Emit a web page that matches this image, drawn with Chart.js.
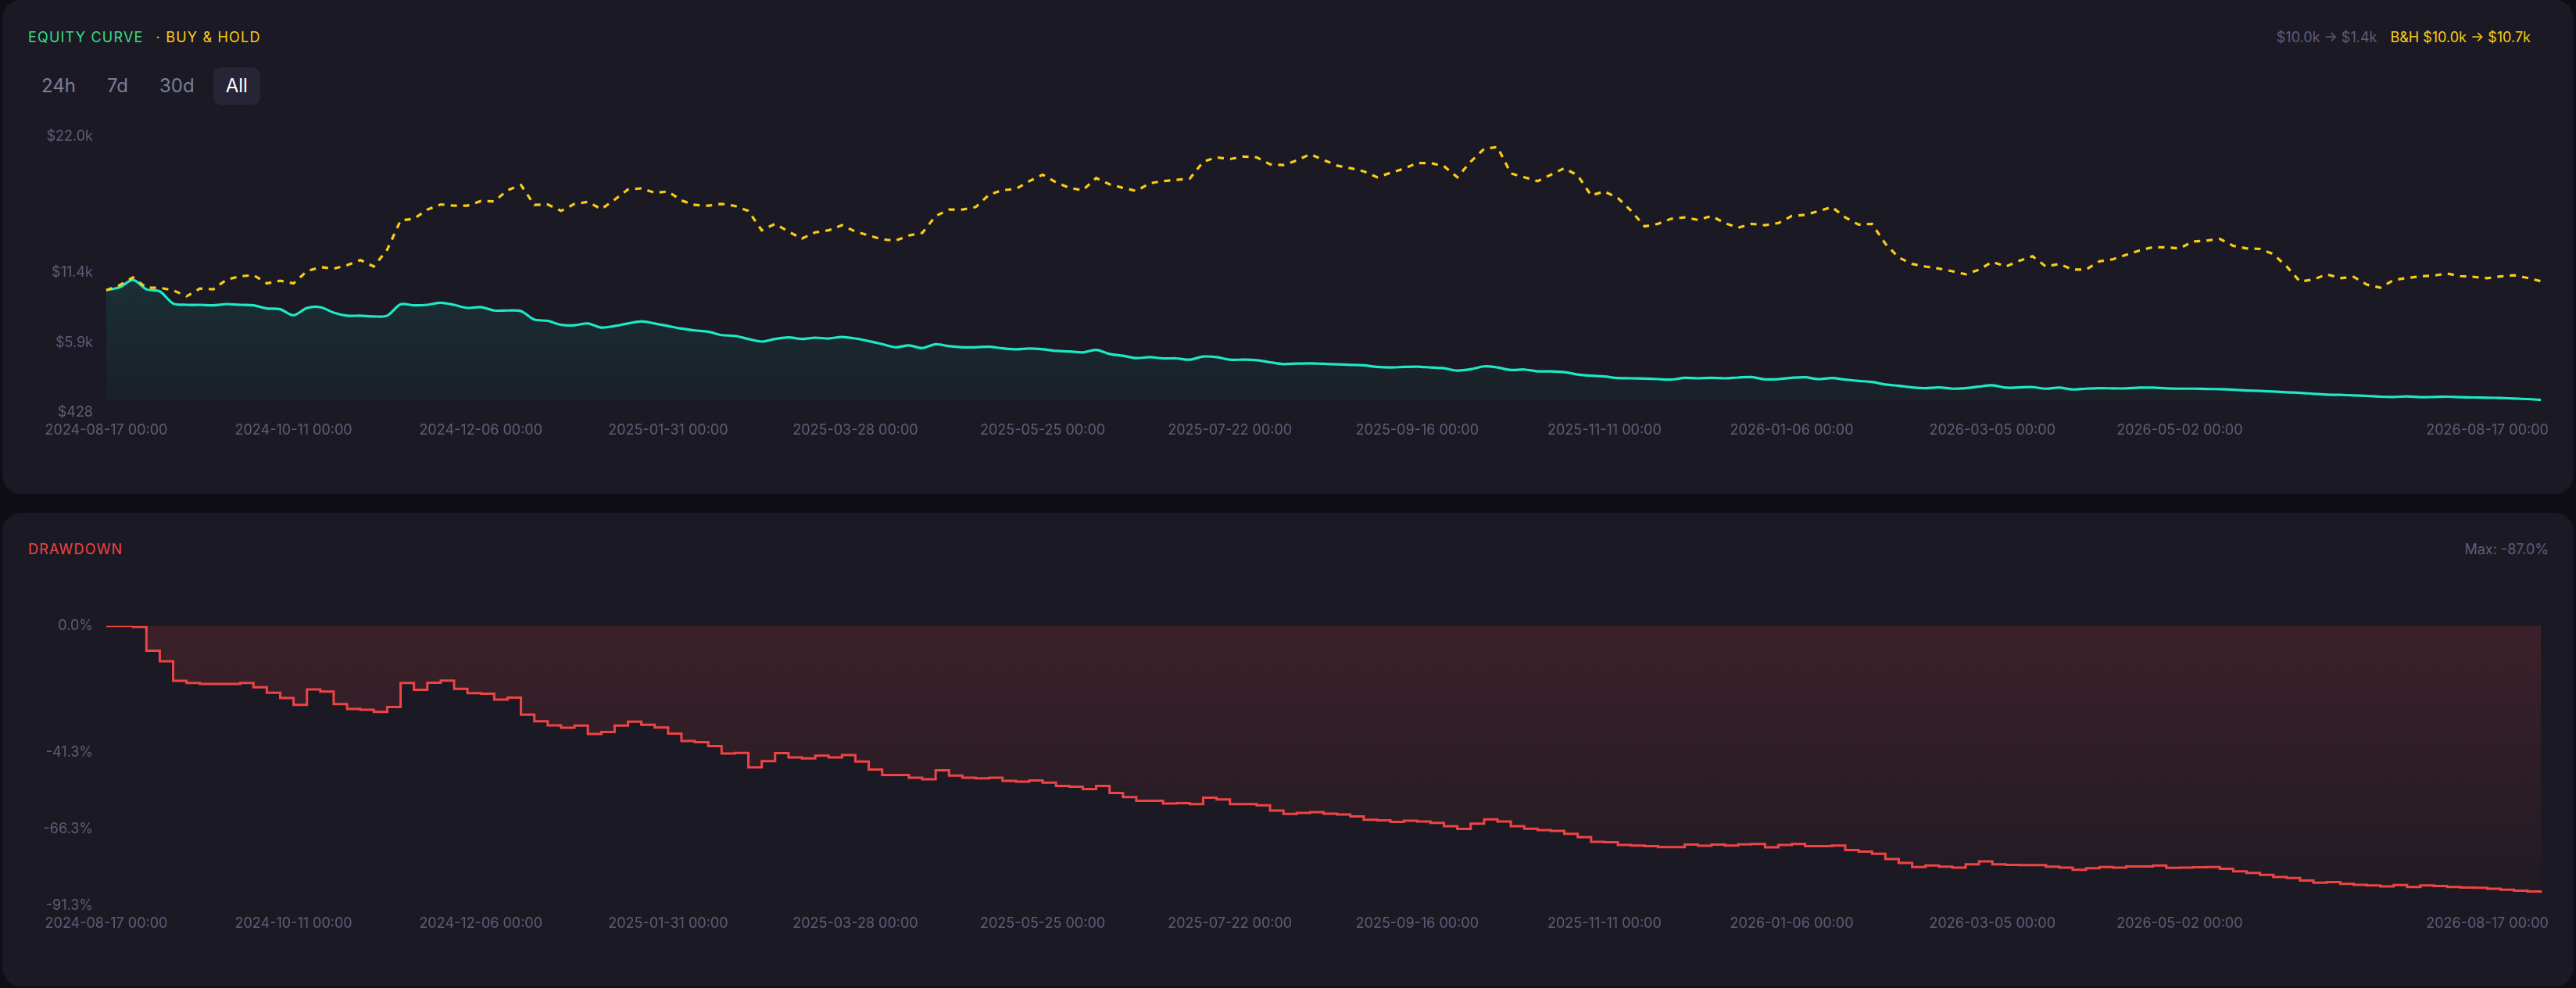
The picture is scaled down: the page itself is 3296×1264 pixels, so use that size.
<!DOCTYPE html>
<html>
<head>
<meta charset="utf-8">
<title>Equity curve</title>
<script src="https://cdn.jsdelivr.net/npm/chart.js@4.4.1/dist/chart.umd.min.js"></script>
<style>
  html, body { margin: 0; padding: 0; width: 3296px; height: 1264px; overflow: hidden; background: #0f0e17; font-family: Inter, sans-serif; }
  .card { position: absolute; left: 3px; width: 3290px; background: #1b1a24; border-radius: 24px; }
  .abs { position: absolute; white-space: nowrap; }
  .head { height: 30px; line-height: 30px; font-size: 18px; }
  .title { font-weight: 400; letter-spacing: 1.2px; }
  .range { display: flex; gap: 8px; height: 48px; }
  .range span { padding: 0 16px; line-height: 48px; font-size: 24px; color: #7f7c98; border-radius: 10px; }
  .range span.on { background: #262536; color: #ffffff; }
</style>
</head>
<body>
<div class="card" style="top:0;height:632px"></div>
<div class="card" style="top:656px;height:606px"></div>

<div class="abs head title" style="left:36px;top:33px">
  <span style="color:#3ddc84">EQUITY CURVE</span><span style="color:#facc15;margin-left:16px">· BUY &amp; HOLD</span>
</div>
<div class="abs head" style="right:58px;top:33px">
  <span style="color:#5f5c77">$10.0k → $1.4k</span><span style="color:#facc15;margin-left:17px">B&amp;H $10.0k → $10.7k</span>
</div>
<div class="abs range" style="left:37px;top:86px">
  <span>24h</span><span>7d</span><span>30d</span><span class="on">All</span>
</div>

<div class="abs head title" style="left:36px;top:688px;color:#ef4444">DRAWDOWN</div>
<div class="abs head" style="right:35px;top:688px;color:#5f5c77">Max: -87.0%</div>

<div class="abs" style="left:0;top:147px;width:3290px;height:431px"><canvas id="equityChart"></canvas></div>
<div class="abs" style="left:0;top:773px;width:3290px;height:436px"><canvas id="ddChart"></canvas></div>

<script>
// one point every ~4 days
const dates = [
  '2024-08-17','2024-08-21','2024-08-25','2024-08-29','2024-09-02','2024-09-06','2024-09-10','2024-09-14','2024-09-18','2024-09-22',
  '2024-09-26','2024-09-30','2024-10-04','2024-10-08','2024-10-11','2024-10-15','2024-10-19','2024-10-23','2024-10-27','2024-10-31',
  '2024-11-04','2024-11-08','2024-11-12','2024-11-16','2024-11-20','2024-11-24','2024-11-28','2024-12-02','2024-12-06','2024-12-10',
  '2024-12-14','2024-12-18','2024-12-22','2024-12-26','2024-12-30','2025-01-03','2025-01-07','2025-01-11','2025-01-15','2025-01-19',
  '2025-01-23','2025-01-27','2025-01-31','2025-02-04','2025-02-08','2025-02-12','2025-02-16','2025-02-20','2025-02-24','2025-02-28',
  '2025-03-04','2025-03-08','2025-03-12','2025-03-16','2025-03-20','2025-03-24','2025-03-28','2025-04-01','2025-04-05','2025-04-09',
  '2025-04-13','2025-04-17','2025-04-21','2025-04-25','2025-04-29','2025-05-03','2025-05-07','2025-05-11','2025-05-15','2025-05-20',
  '2025-05-25','2025-05-29','2025-06-02','2025-06-06','2025-06-10','2025-06-14','2025-06-18','2025-06-22','2025-06-26','2025-06-30',
  '2025-07-04','2025-07-08','2025-07-12','2025-07-17','2025-07-22','2025-07-26','2025-07-30','2025-08-03','2025-08-07','2025-08-11',
  '2025-08-15','2025-08-19','2025-08-23','2025-08-27','2025-08-31','2025-09-04','2025-09-08','2025-09-12','2025-09-16','2025-09-20',
  '2025-09-24','2025-09-28','2025-10-02','2025-10-06','2025-10-10','2025-10-14','2025-10-18','2025-10-22','2025-10-26','2025-10-30',
  '2025-11-03','2025-11-07','2025-11-11','2025-11-15','2025-11-19','2025-11-23','2025-11-27','2025-12-01','2025-12-05','2025-12-09',
  '2025-12-13','2025-12-17','2025-12-21','2025-12-25','2025-12-29','2026-01-02','2026-01-06','2026-01-10','2026-01-14','2026-01-18',
  '2026-01-22','2026-01-26','2026-01-30','2026-02-03','2026-02-07','2026-02-11','2026-02-15','2026-02-19','2026-02-23','2026-02-27',
  '2026-03-02','2026-03-05','2026-03-09','2026-03-13','2026-03-17','2026-03-21','2026-03-25','2026-03-29','2026-04-02','2026-04-06',
  '2026-04-10','2026-04-14','2026-04-18','2026-04-22','2026-04-27','2026-05-02','2026-05-07','2026-05-12','2026-05-17','2026-05-22',
  '2026-05-27','2026-06-01','2026-06-06','2026-06-11','2026-06-16','2026-06-21','2026-06-26','2026-07-01','2026-07-06','2026-07-11',
  '2026-07-16','2026-07-20','2026-07-24','2026-07-28','2026-08-01','2026-08-05','2026-08-09','2026-08-13','2026-08-17','2026-08-21',
  '2026-08-25','2026-08-29','2026-09-02'
];

const tickDates = [
  '2024-08-17','2024-10-11','2024-12-06','2025-01-31','2025-03-28','2025-05-25','2025-07-22',
  '2025-09-16','2025-11-11','2026-01-06','2026-03-05','2026-05-02','2026-08-17'
];

// strategy equity ($)
const equity = [
  10000,10233,10799,10071,9909,8959,8857,8857,8817,8918,8857,8817,8574,8514,8048,8615,8676,8251,8008,8008,
  7948,8008,8898,8817,8857,9019,8857,8615,8676,8413,8413,8372,7705,7604,7301,7260,7402,7078,7200,7402,
  7563,7402,7200,6997,6856,6755,6492,6431,6189,5986,6189,6310,6189,6290,6229,6350,6229,6027,5784,5541,
  5683,5481,5784,5622,5541,5541,5582,5460,5380,5440,5380,5258,5218,5137,5339,5016,4874,4692,4773,4672,
  4672,4571,4814,4773,4571,4571,4531,4369,4227,4268,4288,4247,4207,4167,4126,4005,3964,4005,4025,3964,
  3904,3722,3823,4045,3964,3762,3803,3661,3661,3600,3418,3317,3256,3135,3115,3095,3054,3014,3155,3115,
  3155,3115,3176,3216,3034,3055,3155,3196,3055,3135,3014,2913,2832,2630,2529,2408,2347,2408,2307,2347,
  2468,2569,2387,2408,2428,2307,2387,2246,2307,2347,2327,2327,2387,2387,2327,2307,2307,2286,2266,2226,
  2165,2125,2084,2024,1983,1902,1842,1821,1781,1740,1680,1659,1700,1639,1659,1680,1639,1619,1599,1578,
  1538,1497,1430
];

// buy & hold ($)
const buyHold = [
  10000,10394,11001,10192,10192,9990,9525,10131,10071,10839,11082,11183,10536,10738,10536,11486,11810,11688,11951,12356,
  11850,13165,15449,15591,16299,16703,16602,16602,16966,16946,17815,18219,16663,16703,16197,16743,16905,16339,17067,17876,
  17957,17613,17714,17007,16663,16602,16743,16582,16197,14681,15186,14580,14034,14519,14681,15085,14580,14277,13974,13873,
  14277,14479,15793,16299,16299,16501,17471,17815,17916,18523,19028,18422,17997,17815,18765,18280,17997,17754,18361,18523,
  18624,18725,20039,20383,20242,20444,20383,19837,19776,20140,20626,20181,19736,19534,19291,18826,19170,19493,19938,19938,
  19695,18826,20039,21050,21192,19129,18826,18523,19028,19534,18968,17411,17714,17208,16197,14984,15186,15591,15692,15490,
  15793,15247,14883,15186,15085,15247,15793,15894,16177,16501,15692,15126,15186,13630,12558,12052,11850,11688,11486,11244,
  11608,12214,11850,12295,12659,11850,12052,11608,11608,12255,12416,12760,13104,13367,13346,13266,13811,13873,14014,13468,
  13266,13225,12821,11850,10677,10839,11244,10940,11041,10435,10192,10799,10961,11082,11143,11304,11102,11041,10940,11082,
  11163,10961,10700
];

// drawdown from peak (%)
const drawdown = [
  0,0,-0.3,-8.1,-11.5,-17.9,-18.6,-18.9,-18.9,-18.9,-18.6,-20.0,-21.8,-23.5,-25.7,-20.7,-21.4,-25.5,-27.1,-27.3,
  -28.0,-26.4,-18.6,-20.8,-18.5,-17.8,-20.5,-21.9,-22.1,-24.0,-23.4,-28.9,-31.1,-32.4,-33.2,-32.5,-35.2,-34.6,-32.5,-31.2,
  -32.2,-33.1,-35.1,-37.5,-37.9,-39.2,-41.6,-41.4,-46.1,-44.1,-41.5,-42.9,-43.2,-42.3,-42.9,-42.1,-44.2,-46.8,-48.6,-48.6,
  -49.5,-50.0,-47.1,-48.8,-49.5,-49.7,-49.5,-50.5,-50.8,-50.4,-51.1,-52.2,-52.4,-53.2,-52.2,-54.5,-55.8,-57.0,-57.0,-57.9,
  -57.8,-58.1,-56.0,-56.6,-58.1,-58.1,-58.5,-60.2,-61.3,-61.0,-60.7,-61.2,-61.5,-62.1,-63.2,-63.4,-63.9,-63.5,-63.8,-64.2,
  -65.3,-66.2,-64.5,-63.1,-63.8,-65.3,-66.1,-66.6,-66.8,-67.8,-68.9,-70.4,-70.5,-71.4,-71.6,-71.8,-72.1,-72.1,-71.3,-71.7,
  -71.3,-71.6,-71.2,-71.1,-72.2,-71.4,-71.1,-71.8,-71.8,-71.6,-73.1,-73.6,-74.3,-76.0,-77.3,-78.6,-78.1,-78.5,-78.8,-77.7,
  -76.8,-77.7,-77.9,-78.0,-78.0,-78.5,-78.8,-79.5,-79.0,-78.6,-78.8,-78.4,-78.4,-78.1,-78.9,-78.8,-78.7,-78.6,-79.2,-80.0,
  -80.5,-81.2,-81.9,-82.2,-83.0,-83.7,-83.5,-84.1,-84.4,-84.6,-84.9,-84.5,-85.1,-84.6,-84.8,-85.1,-85.3,-85.4,-85.7,-86.0,
  -86.3,-86.6,-87.0
];

const equityTicks = [428, 5900, 11400, 22000];
const drawdownTicks = [-91.3, -66.3, -41.3, 0];

Chart.defaults.font.family = 'Inter, sans-serif';
Chart.defaults.font.size = 18;
Chart.defaults.color = '#5f5c77';

// vertical fade for area fills
function fade(rgb, top, bottom) {
  return (ctx) => {
    const area = ctx.chart.chartArea;
    if (!area) return null;
    const g = ctx.chart.ctx.createLinearGradient(0, area.top, 0, area.bottom);
    g.addColorStop(0, `rgba(${rgb},${top})`);
    g.addColorStop(1, `rgba(${rgb},${bottom})`);
    return g;
  };
}

function dateAxis() {
  return {
    grid: { display: false, drawTicks: false },
    border: { display: false },
    ticks: {
      autoSkip: false,
      maxRotation: 0,
      padding: 12,
      callback: (v) => tickDates.includes(dates[v]) ? dates[v] + ' 00:00' : ''
    },
    afterFit: (s) => { s.height = 50; }
  };
}

function valueAxis(ticks, fmt) {
  return {
    min: ticks[0],
    max: ticks[ticks.length - 1],
    grid: { display: false, drawTicks: false },
    border: { display: false },
    afterBuildTicks: (s) => { s.ticks = ticks.map(v => ({ value: v })); },
    ticks: { padding: 17, callback: fmt },
    afterFit: (s) => { s.width = 136; }
  };
}

const baseOptions = {
  responsive: true,
  maintainAspectRatio: false,
  animation: false,
  layout: { padding: { top: 0, right: 39, left: 0, bottom: 0 } },
  plugins: { legend: { display: false }, tooltip: { enabled: false } }
};

new Chart(document.getElementById('equityChart'), {
  type: 'line',
  data: {
    labels: dates,
    datasets: [
      {
        label: 'Buy & Hold',
        data: buyHold,
        borderColor: '#facc15',
        borderWidth: 3.2,
        borderDash: [8, 8],
        pointRadius: 0,
        tension: 0,
        fill: false
      },
      {
        label: 'Equity',
        data: equity,
        borderColor: '#1de9c6',
        borderWidth: 3.2,
        pointRadius: 0,
        tension: 0.3,
        fill: { target: { value: Math.min(...equity) } },
        backgroundColor: fade('29,233,198', 0.2, 0.02)
      }
    ]
  },
  options: {
    ...baseOptions,
    scales: {
      x: dateAxis(),
      y: valueAxis(equityTicks, (v) => v >= 1000 ? '$' + (v / 1000).toFixed(1) + 'k' : '$' + v)
    }
  }
});

new Chart(document.getElementById('ddChart'), {
  type: 'line',
  data: {
    labels: dates,
    datasets: [{
      label: 'Drawdown',
      data: drawdown,
      borderColor: '#ef4444',
      borderWidth: 3,
      stepped: true,
      pointRadius: 0,
      fill: 'origin',
      backgroundColor: fade('239,68,68', 0.16, 0.02)
    }]
  },
  options: {
    ...baseOptions,
    scales: {
      x: dateAxis(),
      y: valueAxis(drawdownTicks, (v) => v.toFixed(1) + '%')
    }
  }
});
</script>
</body>
</html>
